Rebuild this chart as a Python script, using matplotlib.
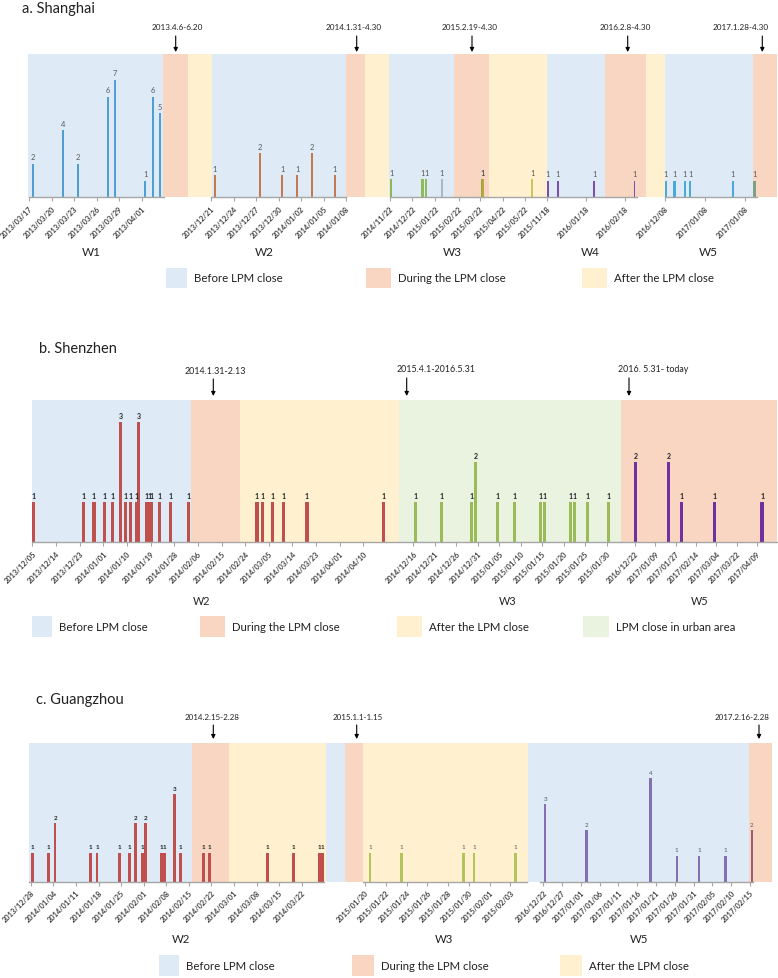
import numpy as np
import matplotlib
matplotlib.use('Agg')
import matplotlib.pyplot as plt
import matplotlib.dates as mdates
from matplotlib.patches import Rectangle

plt.rcParams['font.family'] = ['Lato', 'DejaVu Sans']

W, H = 778, 979
C_BEFORE = '#deeaf6'
C_DURING = '#f8d6c2'
C_AFTER = '#fff1cf'
C_URBAN = '#eaf2e0'
SPAN_COLORS = {'B': C_BEFORE, 'D': C_DURING, 'A': C_AFTER, 'G': C_URBAN}

# ======================= DATA =======================
# ---- a. Shanghai ----
sh_w1_dates = ['2013-03-17', '2013-03-21', '2013-03-23', '2013-03-27', '2013-03-28',
               '2013-04-01', '2013-04-02', '2013-04-03']
sh_w1_vals = [2, 4, 2, 6, 7, 1, 6, 5]
sh_w1_ticks = ['2013-03-17', '2013-03-20', '2013-03-23', '2013-03-26', '2013-03-29', '2013-04-01']
sh_w1_ticklabels = ['2013/03/17', '2013/03/20', '2013/03/23', '2013/03/26', '2013/03/29', '2013/04/01']

sh_w2_dates = ['2013-12-21', '2013-12-27', '2013-12-30', '2014-01-01', '2014-01-03', '2014-01-06']
sh_w2_vals = [1, 2, 1, 1, 2, 1]
sh_w2_ticks = ['2013-12-21', '2013-12-24', '2013-12-27', '2013-12-30', '2014-01-02', '2014-01-05', '2014-01-08']
sh_w2_ticklabels = ['2013/12/21', '2013/12/24', '2013/12/27', '2013/12/30', '2014/01/02', '2014/01/05', '2014/01/08']

sh_w3_dates = ['2014-11-23', '2015-01-04', '2015-01-09', '2015-01-30', '2015-03-25', '2015-03-26', '2015-05-31']
sh_w3_vals = [1, 1, 1, 1, 1, 1, 1]
sh_w3_colors = ['#8db85a', '#8fbc5a', '#8fbc5a', '#aab8c4', '#a3a23a', '#b2aa40', '#c6c85c']
sh_w3_ticks = ['2014-11-22', '2014-12-22', '2015-01-22', '2015-02-22', '2015-03-22', '2015-04-22', '2015-05-22']
sh_w3_ticklabels = ['2014/11/22', '2014/12/22', '2015/01/22', '2015/02/22', '2015/03/22', '2015/04/22', '2015/05/22']

sh_w4_dates = ['2015-12-18', '2015-12-26', '2016-01-24', '2016-02-25']
sh_w4_vals = [1, 1, 1, 1]
sh_w4_ticks = ['2015-12-18', '2016-01-18', '2016-02-18']
sh_w4_ticklabels = ['2015/11/18', '2016/01/18', '2016/02/18']

sh_w5_dates = ['2016-12-08', '2016-12-15', '2016-12-23', '2016-12-27', '2017-01-29', '2017-02-15']
sh_w5_vals = [1, 1, 1, 1, 1, 1]
sh_w5_colors = ['#4aa9d6', '#4aa9d6', '#4aa9d6', '#4aa9d6', '#4aa9d6', '#7f9f86']
sh_w5_ticks = ['2016-12-08', '2017-01-08', '2017-02-08']
sh_w5_ticklabels = ['2016/12/08', '2017/01/08', '2017/01/08']

# ---- b. Shenzhen ----
sz_w2_dates = ['2013-12-05', '2013-12-24', '2013-12-28', '2014-01-01', '2014-01-04', '2014-01-07',
               '2014-01-09', '2014-01-11', '2014-01-13', '2014-01-14', '2014-01-17', '2014-01-18',
               '2014-01-19', '2014-01-22', '2014-01-26', '2014-02-02', '2014-02-28', '2014-03-02',
               '2014-03-06', '2014-03-10', '2014-03-19', '2014-04-17']
sz_w2_vals = [1, 1, 1, 1, 1, 3, 1, 1, 1, 3, 1, 1, 1, 1, 1, 1, 1, 1, 1, 1, 1, 1]
sz_w2_ticks = ['2013-12-05', '2013-12-14', '2013-12-23', '2014-01-01', '2014-01-10', '2014-01-19',
               '2014-01-28', '2014-02-06', '2014-02-15', '2014-02-24', '2014-03-05', '2014-03-14',
               '2014-03-23', '2014-04-01', '2014-04-10']
sz_w2_ticklabels = [d.replace('-', '/') for d in sz_w2_ticks]

sz_w3_dates = ['2014-12-16', '2014-12-22', '2014-12-29', '2014-12-30', '2015-01-04', '2015-01-08',
               '2015-01-14', '2015-01-15', '2015-01-21', '2015-01-22', '2015-01-25', '2015-01-30']
sz_w3_vals = [1, 1, 1, 2, 1, 1, 1, 1, 1, 1, 1, 1]
sz_w3_ticks = ['2014-12-16', '2014-12-21', '2014-12-26', '2014-12-31', '2015-01-05', '2015-01-10',
               '2015-01-15', '2015-01-20', '2015-01-25', '2015-01-30']
sz_w3_ticklabels = [d.replace('-', '/') for d in sz_w3_ticks]

sz_w5_dates = ['2016-12-22', '2017-01-20', '2017-02-01', '2017-03-02', '2017-04-13']
sz_w5_vals = [2, 2, 1, 1, 1]
sz_w5_ticks = ['2016-12-22', '2017-01-09', '2017-01-27', '2017-02-14', '2017-03-04', '2017-03-22', '2017-04-09']
sz_w5_ticklabels = [d.replace('-', '/') for d in sz_w5_ticks]

# ---- c. Guangzhou ----
gz_w2_dates = ['2013-12-28', '2014-01-02', '2014-01-04', '2014-01-15', '2014-01-17', '2014-01-24',
               '2014-01-27', '2014-01-29', '2014-01-31', '2014-02-01', '2014-02-06', '2014-02-07',
               '2014-02-10', '2014-02-12', '2014-02-19', '2014-02-21', '2014-03-11', '2014-03-19',
               '2014-03-27', '2014-03-28']
gz_w2_vals = [1, 1, 2, 1, 1, 1, 1, 2, 1, 2, 1, 1, 3, 1, 1, 1, 1, 1, 1, 1]
gz_w2_ticks = ['2013-12-28', '2014-01-04', '2014-01-11', '2014-01-18', '2014-01-25', '2014-02-01',
               '2014-02-08', '2014-02-15', '2014-02-22', '2014-03-01', '2014-03-08', '2014-03-15',
               '2014-03-22']
gz_w2_ticklabels = [d.replace('-', '/') for d in gz_w2_ticks]

gz_w3_dates = ['2015-01-20', '2015-01-23', '2015-01-29', '2015-01-30', '2015-02-03']
gz_w3_vals = [1, 1, 1, 1, 1]
gz_w3_ticks = ['2015-01-20', '2015-01-22', '2015-01-24', '2015-01-26', '2015-01-28', '2015-01-30',
               '2015-02-01', '2015-02-03']
gz_w3_ticklabels = [d.replace('-', '/') for d in gz_w3_ticks]

gz_w5_dates = ['2016-12-22', '2017-01-02', '2017-01-19', '2017-01-26', '2017-02-01', '2017-02-08', '2017-02-15']
gz_w5_vals = [3, 2, 4, 1, 1, 1, 2]
gz_w5_colors = ['#8470b0', '#8470b0', '#8470b0', '#8470b0', '#8470b0', '#8470b0', '#9c5b78']
gz_w5_ticks = ['2016-12-22', '2016-12-27', '2017-01-01', '2017-01-06', '2017-01-11', '2017-01-16',
               '2017-01-21', '2017-01-26', '2017-01-31', '2017-02-05', '2017-02-10', '2017-02-15']
gz_w5_ticklabels = [d.replace('-', '/') for d in gz_w5_ticks]

legend_labels = ['Before LPM close', 'During the LPM close', 'After the LPM close', 'LPM close in urban area']

# ======================= FIGURE =======================
fig = plt.figure(figsize=(W / 100, H / 100), dpi=100)


def dnum(s):
    return mdates.date2num(np.datetime64(s))


def px_axes(x0, x1, ytop, ybot, z=1):
    return fig.add_axes([x0 / W, 1 - ybot / H, (x1 - x0) / W, (ybot - ytop) / H], zorder=z)


def background(x0, x1, ytop, ybot, spans):
    ax = px_axes(x0, x1, ytop, ybot, z=0)
    ax.set_xlim(x0, x1)
    ax.set_ylim(0, 1)
    ax.axis('off')
    for a, b, k in spans:
        ax.axvspan(a, b, color=SPAN_COLORS[k], lw=0)


def window(px0, px1, ytop, ybot, xlim, ymax, dates, vals, colors, ticks, ticklabels,
           bar_px=2.6, lab_size=5.4, lab_bold=False, lab_color='#595959', tick_size=5.3):
    ax = px_axes(px0, px1, ytop, ybot, z=2)
    ax.patch.set_alpha(0)
    x0, x1 = dnum(xlim[0]), dnum(xlim[1])
    ax.set_xlim(x0, x1)
    ax.set_ylim(0, ymax)
    ppd = (px1 - px0) / (x1 - x0)
    xs = np.array([dnum(d) for d in dates]) + 0.5
    ax.bar(xs, vals, width=bar_px / ppd, color=colors, lw=0)
    for x, v in zip(xs, vals):
        ax.annotate(str(v), (x, v), xytext=(0, 2.5), textcoords='offset points',
                    ha='center', va='bottom', fontsize=lab_size, color=lab_color,
                    fontweight='bold' if lab_bold else 'normal')
    for s in ['top', 'right', 'left']:
        ax.spines[s].set_visible(False)
    ax.spines['bottom'].set_color('#a6a6a6')
    ax.spines['bottom'].set_linewidth(1.0)
    ax.set_yticks([])
    ax.set_xticks([dnum(t) for t in ticks])
    ax.set_xticklabels(ticklabels, rotation=45, ha='right', va='top', rotation_mode='anchor',
                       fontsize=tick_size, color='#404040', fontweight='bold')
    ax.tick_params(axis='x', length=3, width=0.8, color='#a6a6a6', pad=2)
    return ax


ov = fig.add_axes([0, 0, 1, 1], zorder=5)
ov.set_xlim(0, W)
ov.set_ylim(H, 0)
ov.axis('off')
ov.patch.set_alpha(0)


def arrow_note(x_text, y_text, x_arrow, y0, y1, text, size):
    ov.text(x_text, y_text, text, ha='center', va='center', fontsize=size, color='#222222')
    ov.annotate('', xy=(x_arrow, y1), xytext=(x_arrow, y0),
                arrowprops=dict(arrowstyle='-|>', color='black', lw=0.8, mutation_scale=6,
                                shrinkA=0, shrinkB=0))


def legend_item(x, y_top, h, w, kind, label, size):
    ov.add_patch(Rectangle((x, y_top), w, h, color=SPAN_COLORS[kind], lw=0))
    ov.text(x + w + 7, y_top + h / 2, label, ha='left', va='center', fontsize=size, color='#222222')


# ---------------- Panel a ----------------
TA, BA = 55, 198.3
background(28, 777, TA, BA, [(28, 163, 'B'), (163, 188, 'D'), (188, 212, 'A'), (212, 346, 'B'),
                             (346, 365, 'D'), (365, 389, 'A'), (389, 454, 'B'), (454, 489, 'D'),
                             (489, 547, 'A'), (547, 605, 'B'), (605, 646, 'D'), (646, 665, 'A'),
                             (665, 753, 'B'), (753, 777, 'D')])
window(29, 164, TA, BA, ('2013-03-17', '2013-04-04'), 8.53, sh_w1_dates, sh_w1_vals, '#4f9fd3',
       sh_w1_ticks, sh_w1_ticklabels, bar_px=2.4)
window(211, 346, TA, BA, ('2013-12-21', '2014-01-08'), 6.5, sh_w2_dates, sh_w2_vals, '#c47a4e',
       sh_w2_ticks, sh_w2_ticklabels, bar_px=2.4)
window(390, 547, TA, BA, ('2014-11-22', '2015-06-20T12'), 7.9, sh_w3_dates, sh_w3_vals, sh_w3_colors,
       sh_w3_ticks, sh_w3_ticklabels, bar_px=2.4)
window(547.3, 637, TA, BA, ('2015-12-18', '2016-02-27T12'), 8.6, sh_w4_dates, sh_w4_vals, '#7a4fb0',
       sh_w4_ticks, sh_w4_ticklabels, bar_px=1.8)
window(665, 757, TA, BA, ('2016-12-08', '2017-02-17T08'), 8.6, sh_w5_dates, sh_w5_vals, sh_w5_colors,
       sh_w5_ticks, sh_w5_ticklabels, bar_px=2.4)

ov.text(22, 9, 'a. Shanghai', ha='left', va='center', fontsize=10.5, color='#222222')
for xt, xa, t in [(177.5, 175.7, '2013.4.6-6.20'), (354, 356.7, '2014.1.31-4.30'),
                  (470, 472, '2015.2.19-4.30'), (625, 627.7, '2016.2.8-4.30'),
                  (741, 762.3, '2017.1.28-4.30')]:
    arrow_note(xt, 28, xa, 37, 53, t, 5.9)
for xw, t in [(91, 'W1'), (264, 'W2'), (452.7, 'W3'), (590, 'W4'), (708, 'W5')]:
    ov.text(xw, 252, t, ha='center', va='center', fontsize=8.5, color='#222222')
legend_item(166, 269, 20, 21, 'B', legend_labels[0], 8.2)
legend_item(366, 269, 20, 25, 'D', legend_labels[1], 8.2)
legend_item(582, 269, 20, 25, 'A', legend_labels[2], 8.2)

# ---------------- Panel b ----------------
TB, BB = 401, 543.3
background(32.3, 777, TB, BB, [(32.3, 191, 'B'), (191, 240, 'D'), (240, 399, 'A'), (399, 621, 'G'),
                               (621, 777, 'D')])
window(32.3, 386, TB, BB, ('2013-12-05', '2014-04-18T14'), 3.55, sz_w2_dates, sz_w2_vals, '#c0504d',
       sz_w2_ticks, sz_w2_ticklabels, bar_px=3.2, lab_size=5.0, lab_bold=True, lab_color='#222222')
window(386, 620.7, TB, BB, ('2014-12-09T15', '2015-02-02T06'), 3.55, sz_w3_dates, sz_w3_vals, '#9bbb59',
       sz_w3_ticks, sz_w3_ticklabels, bar_px=3.2, lab_size=5.0, lab_bold=True, lab_color='#222222')
window(621, 777, TB, BB, ('2016-12-09T14', '2017-04-26T17'), 3.55, sz_w5_dates, sz_w5_vals, '#7030a0',
       sz_w5_ticks, sz_w5_ticklabels, bar_px=3.2, lab_size=5.0, lab_bold=True, lab_color='#222222')

ov.text(39, 349, 'b. Shenzhen', ha='left', va='center', fontsize=10.5, color='#222222')
arrow_note(215.5, 371.5, 213.3, 380, 397, '2014.1.31-2.13', 6.4)
arrow_note(435.8, 370, 406.7, 379, 397, '2015.4.1-2016.5.31', 6.4)
arrow_note(653.3, 370, 629, 379, 397, '2016. 5.31- today', 6.4)
for xw, t in [(202, 'W2'), (508, 'W3'), (700, 'W5')]:
    ov.text(xw, 602, t, ha='center', va='center', fontsize=7.8, color='#222222')
legend_item(32, 617, 21, 20, 'B', legend_labels[0], 8.2)
legend_item(200, 617, 21, 25, 'D', legend_labels[1], 8.2)
legend_item(397, 617, 21, 25, 'A', legend_labels[2], 8.2)
legend_item(583, 617, 21, 26, 'G', legend_labels[3], 8.2)

# ---------------- Panel c ----------------
TC, BC = 744, 882.7
background(29.3, 771.7, TC, BC, [(29.3, 192.3, 'B'), (192.3, 229, 'D'), (229, 326, 'A'), (326, 345, 'B'),
                                 (345, 363, 'D'), (363, 527.7, 'A'), (527.7, 749, 'B'), (749, 771.7, 'D')])
window(29.3, 324, TC, BC, ('2013-12-27T12', '2014-03-28T22'), 4.75, gz_w2_dates, gz_w2_vals, '#c0504d',
       gz_w2_ticks, gz_w2_ticklabels, bar_px=2.8, lab_bold=True, lab_color='#222222', lab_size=4.5)
window(363.3, 526.7, TC, BC, ('2015-01-19T20', '2015-02-04T14'), 4.8, gz_w3_dates, gz_w3_vals, '#b3c45c',
       gz_w3_ticks, gz_w3_ticklabels, bar_px=2.4, lab_size=4.5)
window(540, 753, TC, BC, ('2016-12-21T03', '2017-02-15T19'), 5.37, gz_w5_dates, gz_w5_vals, gz_w5_colors,
       gz_w5_ticks, gz_w5_ticklabels, bar_px=2.4, lab_size=4.5)

ov.text(36, 700, 'c. Guangzhou', ha='left', va='center', fontsize=10.5, color='#222222')
arrow_note(212, 718, 213.3, 726, 740, '2014.2.15-2.28', 5.8)
arrow_note(357.7, 718, 356.7, 726, 740, '2015.1.1-1.15', 5.8)
arrow_note(741.7, 718, 759, 726, 740, '2017.2.16-2.28', 5.8)
for xw, t in [(181, 'W2'), (444, 'W3'), (639, 'W5')]:
    ov.text(xw, 940, t, ha='center', va='center', fontsize=8.2, color='#222222')
legend_item(159, 956, 21, 20, 'B', legend_labels[0], 8.2)
legend_item(352, 956, 21, 22, 'D', legend_labels[1], 8.2)
legend_item(560, 956, 21, 22, 'A', legend_labels[2], 8.2)

fig.savefig('out.png', dpi=100, facecolor='white')
